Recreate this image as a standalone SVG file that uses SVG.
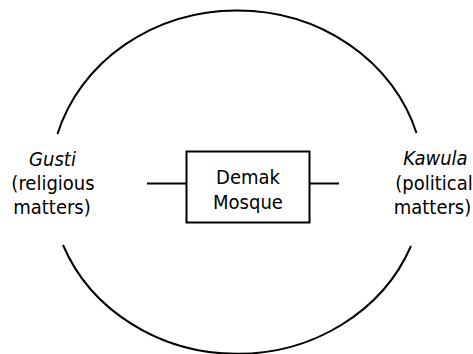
<svg xmlns="http://www.w3.org/2000/svg" width="473" height="354" viewBox="0 0 473 354">
<style>
.ln{fill:none;stroke:#000;stroke-width:2}
.t{font-family:"DejaVu Sans Condensed","DejaVu Sans",sans-serif;font-stretch:condensed;font-size:20px;fill:#000;text-anchor:middle}
.i{font-style:italic}
</style>
<rect width="473" height="354" fill="#fff"/>
<g id="connectors">
<path class="ln" d="M57.5 134 A187 171 0 0 1 416.5 133"/>
<path class="ln" d="M63 245 A187 171 0 0 0 411 246"/>
<line class="ln" x1="147" y1="183.5" x2="186.5" y2="183.5"/>
<line class="ln" x1="309.5" y1="183.5" x2="339" y2="183.5"/>
</g>
<g id="demak">
<rect class="ln" x="186.5" y="151.5" width="123" height="71"/>
<text class="t" x="248" y="184.3">Demak</text>
<text class="t" x="248" y="209.3">Mosque</text>
</g>
<g id="gusti">
<text class="t i" x="52.5" y="166">Gusti</text>
<text class="t" x="53" y="190">(religious</text>
<text class="t" x="52" y="214">matters)</text>
</g>
<g id="kawula">
<text class="t i" x="435.5" y="165">Kawula</text>
<text class="t" x="434" y="190">(political</text>
<text class="t" x="432.5" y="214">matters)</text>
</g>
</svg>
